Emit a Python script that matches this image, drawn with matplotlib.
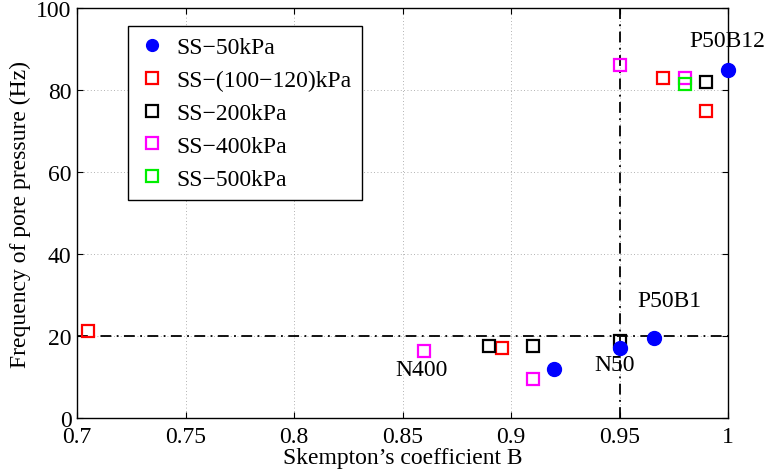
import matplotlib
matplotlib.use("Agg")
import matplotlib.pyplot as plt

plt.rcParams['font.family'] = ['Liberation Serif', 'DejaVu Serif']

# data
b_50 = [1.0, 0.966, 0.95, 0.92]
f_50 = [84.8, 19.5, 17.0, 12.0]

b_100 = [0.705, 0.896, 0.97, 0.99]
f_100 = [21.2, 17.0, 83.0, 75.0]

b_200 = [0.89, 0.91, 0.95, 0.99]
f_200 = [17.6, 17.6, 18.8, 82.0]

b_400 = [0.86, 0.91, 0.95, 0.98]
f_400 = [16.3, 9.5, 86.0, 83.0]

b_500 = [0.98]
f_500 = [81.5]

labels = ["SS\u221250kPa", "SS\u2212(100\u2212120)kPa", "SS\u2212200kPa",
          "SS\u2212400kPa", "SS\u2212500kPa"]

notes = ["P50B12", "P50B1", "N400", "N50"]
note_xy = [(0.982, 90.7), (0.958, 27.3), (0.8468, 10.5), (0.9385, 11.7)]

FS = 17

fig = plt.figure(figsize=(7.66, 4.77), dpi=100)
ax = fig.add_axes([77 / 766, 58 / 477, 651 / 766, 410 / 477])

ax.grid(True, linestyle=(0, (1, 3)), color='#999999', linewidth=0.6)
ax.set_axisbelow(True)

ax.axhline(20, color='black', linestyle=(0, (6, 3, 1, 3)), linewidth=1.3, zorder=2)
ax.axvline(0.95, color='black', linestyle=(0, (6, 3, 1, 3)), linewidth=1.3, zorder=2)

ax.plot(b_50, f_50, 'o', color='blue', markersize=10, label=labels[0], clip_on=False, zorder=4)
ax.plot(b_100, f_100, 's', mfc='none', mec='red', mew=1.6, markersize=9, label=labels[1], clip_on=False, zorder=3)
ax.plot(b_200, f_200, 's', mfc='none', mec='black', mew=1.6, markersize=9, label=labels[2], clip_on=False, zorder=3)
ax.plot(b_400, f_400, 's', mfc='none', mec='magenta', mew=1.6, markersize=9, label=labels[3], clip_on=False, zorder=3)
ax.plot(b_500, f_500, 's', mfc='none', mec='#00ee00', mew=1.6, markersize=9, label=labels[4], clip_on=False, zorder=3)

for txt, (x, y) in zip(notes, note_xy):
    ax.text(x, y, txt, fontsize=FS, ha='left', va='baseline', clip_on=False)

ax.set_xlim(0.7, 1.0)
ax.set_ylim(0, 100)
ax.set_xticks([0.7, 0.75, 0.8, 0.85, 0.9, 0.95, 1.0])
ax.set_xticklabels(['0.7', '0.75', '0.8', '0.85', '0.9', '0.95', '1'])
ax.set_yticks([0, 20, 40, 60, 80, 100])

ax.tick_params(direction='in', labelsize=FS, top=True, right=True, length=4)
ax.tick_params(axis='x', pad=6)
ax.tick_params(axis='y', pad=4)
for s in ax.spines.values():
    s.set_linewidth(1.0)

ax.set_xlabel("Skempton\u2019s coefficient B", fontsize=FS, labelpad=0)
ax.set_ylabel("Frequency of pore pressure (Hz)", fontsize=FS, labelpad=4)

leg = ax.legend(loc='upper left', bbox_to_anchor=(51 / 651, 1 - 18 / 410), fontsize=FS,
                fancybox=False, edgecolor='black', framealpha=1, borderpad=0.45,
                labelspacing=0.48, handletextpad=0.5, handlelength=1.1,
                borderaxespad=0)
leg.get_frame().set_linewidth(1.0)
for h in leg.legend_handles:
    h.set_markersize(8.5)

fig.savefig("out.png", dpi=100)
